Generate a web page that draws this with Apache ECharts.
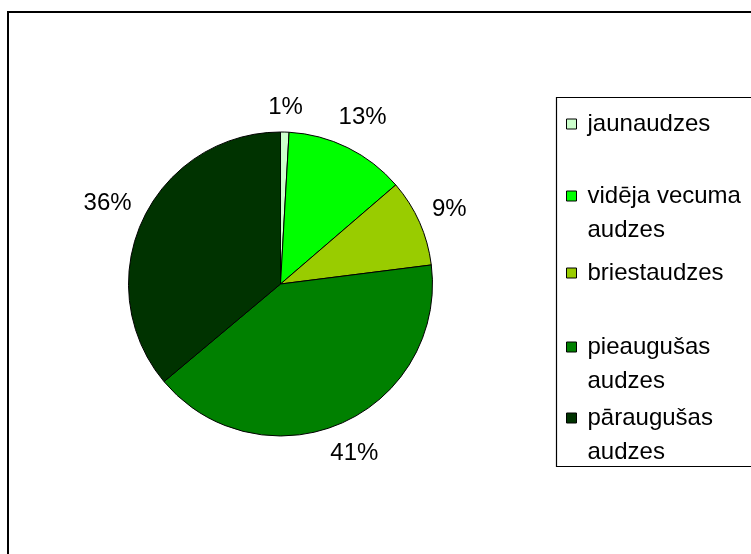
<!DOCTYPE html>
<html>
<head>
<meta charset="utf-8">
<script src="https://cdn.jsdelivr.net/npm/echarts@6/dist/echarts.min.js"></script>
<style>
  html, body { margin: 0; padding: 0; background: #fff; }
  #chart { width: 751px; height: 554px; }
</style>
</head>
<body>
<div id="chart"></div>
<script>
// audžu vecuma struktūra
const categories = ['jaunaudzes', 'vidēja vecuma audzes', 'briestaudzes', 'pieaugušas audzes', 'pāraugušas audzes']
const legendText = ['jaunaudzes', 'vidēja vecuma\naudzes', 'briestaudzes', 'pieaugušas\naudzes', 'pāraugušas\naudzes']
const values = [0.9, 12.8, 9.3, 40.9, 36.1]
const colors = ['#CCFFCC', '#00FF00', '#99CC00', '#008000', '#003300']

const font = 'Liberation Sans, Arial, sans-serif'
const legendY = [124, 196, 273, 347, 418]

let chart = echarts.init(document.getElementById('chart'))

// two-line entries get an empty first line so the marker sits on the first text line
let legends = categories.map(function (name, i) {
  const twoLine = legendText[i].indexOf('\n') >= 0
  return {
    data: [name],
    orient: 'vertical',
    left: 566,
    top: legendY[i] - (twoLine ? 51 : 17),
    padding: 0,
    icon: 'rect',
    itemWidth: 10,
    itemHeight: 10,
    selectedMode: false,
    itemStyle: { borderColor: '#000', borderWidth: 1 },
    formatter: function () { return twoLine ? '\n' + legendText[i] : legendText[i] },
    textStyle: {
      fontSize: 24,
      lineHeight: 34,
      color: '#000',
      fontFamily: font,
      padding: [0, 0, 0, 6]
    }
  }
})

let option = {
  animation: false,
  backgroundColor: '#fff',
  color: colors,
  legend: legends,
  graphic: [
    {
      type: 'rect',
      shape: { x: 8, y: 12, width: 800, height: 600 },
      style: { fill: 'none', stroke: '#000', lineWidth: 2 },
      silent: true
    },
    {
      type: 'rect',
      shape: { x: 556.5, y: 97.5, width: 260, height: 369 },
      style: { fill: 'none', stroke: '#000', lineWidth: 1.2 },
      silent: true
    }
  ],
  series: [
    {
      type: 'pie',
      center: [280.5, 284],
      radius: 152,
      startAngle: 90,
      clockwise: true,
      avoidLabelOverlap: false,
      itemStyle: { borderColor: '#000', borderWidth: 1 },
      emphasis: { disabled: true },
      label: {
        show: true,
        position: 'outside',
        fontSize: 24,
        lineHeight: 24,
        color: '#000',
        fontFamily: font,
        formatter: function (p) { return Math.round(p.percent) + '%' }
      },
      labelLine: { show: true, length: 12, length2: 0, lineStyle: { opacity: 0, width: 0 } },
      labelLayout: function (params) {
        const p = params.labelLinePoints
        if (!p) return {}
        const dx = p[1][0] - p[0][0]
        const dy = p[1][1] - p[0][1]
        const len = Math.hypot(dx, dy) || 1
        const ux = dx / len, uy = dy / len
        const ext = Math.abs(ux) * params.labelRect.width / 2 + Math.abs(uy) * params.labelRect.height / 2
        return {
          x: p[1][0] + ux * ext,
          y: p[1][1] + uy * ext,
          align: 'center',
          verticalAlign: 'middle'
        }
      },
      data: categories.map(function (name, i) {
        return { name: name, value: values[i] }
      })
    }
  ]
}

option && chart.setOption(option)
</script>
</body>
</html>
